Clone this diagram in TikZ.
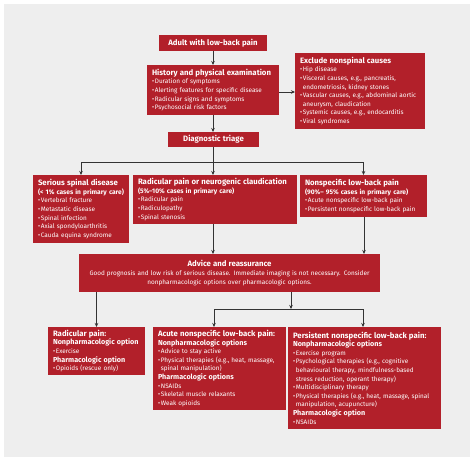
\documentclass[tikz,border=0pt]{standalone}
\usepackage{fontspec}
\setmainfont{Fira Sans}
\usetikzlibrary{arrows.meta}
\definecolor{boxred}{HTML}{B2202A}
\definecolor{panel}{HTML}{EEEEEE}
\definecolor{linec}{HTML}{333333}
\newcommand\bu{\makebox[0.45em][l]{•}}
\newcommand\ind{\hspace*{0.45em}}
\newcommand\ttl[1]{{\fontsize{7.8}{9.6}\selectfont\bfseries #1}}
\newcommand\sub[1]{{\fontsize{6.6}{8.6}\selectfont\bfseries #1}}
\newcommand\hd[1]{{\fontsize{7.2}{8.6}\selectfont\bfseries #1}}
\tikzset{
  redbox/.style={fill=boxred, text=white, anchor=north west, inner xsep=5pt,
    inner ysep=1pt, outer sep=0pt, align=left,
    font=\fontsize{6.4}{8.6}\selectfont},
  conn/.style={draw=linec, line width=0.6pt},
  arr/.style={conn, -{Stealth[length=4pt,width=3.5pt]}}
}
\begin{document}
\begin{tikzpicture}[x=1pt,y=-1pt]
\useasboundingbox (0,0) rectangle (474,461);
\fill[white] (0,0) rectangle (474,461);
\fill[panel] (4,4) rectangle (470,457);

\node[redbox, align=center, minimum width=108, minimum height=16, text width=98] (adult) at (159,35) {\ttl{Adult with low-back pain}};
\node[redbox, minimum width=132, minimum height=50, text width=122] (hist) at (147,65) {\ttl{History and physical examination}\\
\bu Duration of symptoms\\
\bu Alerting features for specific disease\\
\bu Radicular signs and symptoms\\
\bu Psychosocial risk factors};
\node[redbox, minimum width=130, minimum height=76, text width=120] (excl) at (295,53) {\ttl{Exclude nonspinal causes}\\
\bu Hip disease\\
\bu Visceral causes, e.g., pancreatis,\\
\ind endometriosis, kidney stones\\
\bu Vascular causes, e.g., abdominal aortic\\
\ind aneurysm, claudication\\
\bu Systemic causes, e.g., endocarditis\\
\bu Viral syndromes};
\node[redbox, align=center, minimum width=91, minimum height=15, text width=81] (triage) at (168,132) {\ttl{Diagnostic triage}};

\node[redbox, minimum width=96, minimum height=68, text width=86] (serious) at (33,175) {\ttl{Serious spinal disease}\\
\sub{(< 1\% cases in primary care)}\\
\bu Vertebral fracture\\
\bu Metastatic disease\\
\bu Spinal infection\\
\bu Axial spondyloarthritis\\
\bu Cauda equina syndrome};
\node[redbox, minimum width=164, minimum height=49, text width=154] (radic) at (133,175) {\ttl{Radicular pain or neurogenic claudication}\\
\sub{(5\%–10\% cases in primary care)}\\
\bu Radicular pain\\
\bu Radiculopathy\\
\bu Spinal stenosis};
\node[redbox, minimum width=127, minimum height=42, text width=117] (nonsp) at (300,175) {\ttl{Nonspecific low-back pain}\\
\sub{(90\%– 95\% cases in primary care)}\\
\bu Acute nonspecific low-back pain\\
\bu Persistent nonspecific low-back pain};

\node[redbox, align=center, minimum width=301, minimum height=38, text width=291] (advice) at (79,254) {\ttl{Advice and reassurance}\\
Good prognosis and low risk of serious disease. Immediate imaging is not necessary. Consider\\
nonpharmacologic options over pharmacologic options.};

\node[redbox, minimum width=97, minimum height=48, text width=87] (radpain) at (48,327) {\ttl{Radicular pain:}\\
\hd{Nonpharmacologic option}\\
\bu Exercise\\
\hd{Pharmacologic option}\\
\bu Opioids (rescue only)};
\node[redbox, minimum width=133, minimum height=83, text width=123] (acute) at (153,327) {\ttl{Acute nonspecific low-back pain:}\\
\hd{Nonpharmacologic options}\\
\bu Advice to stay active\\
\bu Physical therapies (e.g., heat, massage,\\
\ind spinal manipulation)\\
\hd{Pharmacologic options}\\
\bu NSAIDs\\
\bu Skeletal muscle relaxants\\
\bu Weak opioids};
\node[redbox, minimum width=153, minimum height=102, text width=143] (persist) at (288,327) {\ttl{Persistent nonspecific low-back pain:}\\
\hd{Nonpharmacologic options}\\
\bu Exercise program\\
\bu Psychological therapies (e.g., cognitive\\
\ind behavioural therapy, mindfulness-based\\
\ind stress reduction, operant therapy)\\
\bu Multidisciplinary therapy\\
\bu Physical therapies (e.g., heat, massage, spinal\\
\ind manipulation, acupuncture)\\
\hd{Pharmacologic option}\\
\bu NSAIDs};

% connectors
\draw[arr] (adult.south -| 213,0) -- (hist.north -| 213,0);
\draw[arr] (hist.east |- 0,92) -- (excl.west |- 0,92);
\draw[arr] (hist.south -| 213,0) -- (triage.north -| 213,0);
\coordinate (j1) at (213,162);
\draw[conn] (triage.south -| j1) -- (j1);
\draw[arr] (j1) -| (serious.north);
\draw[arr] (j1) -| (nonsp.north);
\draw[arr] (j1) -- (j1 |- radic.north);
\draw[arr] (radic.south -| 213,0) -- (advice.north -| 213,0);
\draw[arr] (nonsp.south -| 364,0) -- (advice.north -| 364,0);
\draw[arr] (advice.south -| radpain.north) -- (radpain.north);
\coordinate (j2) at (291,309);
\draw[arr] (advice.south -| j2) -- (j2);
\coordinate (j2a) at (214,309);
\coordinate (j2b) at (363,309);
\draw[conn] (j2a) -- (j2b);
\draw[arr] (j2a) -- (j2a |- acute.north);
\draw[arr] (j2b) -- (j2b |- persist.north);
\end{tikzpicture}
\end{document}
